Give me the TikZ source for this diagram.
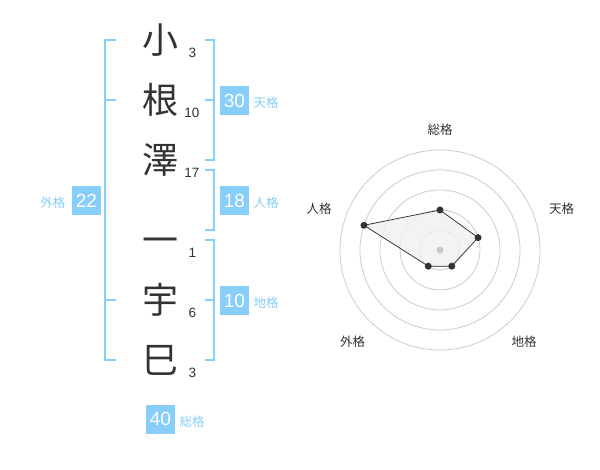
\documentclass[tikz,border=0pt]{standalone}
\usepackage{fontspec}
\setmainfont{Liberation Sans}
\newfontfamily\jp{Noto Sans CJK JP}
\begin{document}
\begin{tikzpicture}[x=1pt,y=-1pt,
  kanji/.style={font=\jp\fontsize{36}{36}\selectfont, text=black!80, inner sep=0pt, text height=31.7pt, text depth=4.3pt},
  strokes/.style={font=\fontsize{13.5}{14}\selectfont, text=black!80, inner sep=0pt},
  bracket/.style={draw=skyblue, line width=2pt},
  numbox/.style={fill=skyblue, minimum width=29pt, minimum height=29pt, inner sep=0pt, text=white, font=\fontsize{19}{19}\selectfont},
  kaku/.style={font=\jp\fontsize{12.5}{13}\selectfont, text=skytext, inner sep=0pt, text height=11pt, text depth=1.5pt},
  rlabel/.style={font=\jp\fontsize{12.5}{13}\selectfont, text=black!80, inner sep=0pt, text height=11pt, text depth=1.5pt},
  ring/.style={draw=black!20, line width=0.8pt},
  dot/.style={circle, fill=black!80, inner sep=0pt, minimum size=7pt}
]
\definecolor{skyblue}{HTML}{87CEFA}
\definecolor{skytext}{HTML}{87CEFA}
\useasboundingbox (0,0) rectangle (600,470);
\fill[white] (0,0) rectangle (600,470);

% characters
\node[kanji] (k1) at (160,40) {小};
\node[kanji] (k2) at (160,100) {根};
\node[kanji] (k3) at (160,160) {澤};
\node[kanji] (k4) at (160,240) {一};
\node[kanji] (k5) at (160,300) {宇};
\node[kanji] (k6) at (160,360) {巳};
\node[strokes] (s1) at (192.5,52.5) {3};
\node[strokes] (s2) at (192,112.5) {10};
\node[strokes] (s3) at (192,173) {17};
\node[strokes] (s4) at (192.5,252.5) {1};
\node[strokes] (s5) at (192.5,312.5) {6};
\node[strokes] (s6) at (192.5,373) {3};

% brackets
\draw[bracket] (116,40) -- (105,40) -- (105,360) -- (116,360);
\draw[bracket] (105,100) -- (116,100);
\draw[bracket] (105,300) -- (116,300);
\draw[bracket] (205,40) -- (214,40) -- (214,160) -- (205,160);
\draw[bracket] (205,100) -- (214,100);
\draw[bracket] (205,170) -- (214,170) -- (214,230) -- (205,230);
\draw[bracket] (205,240) -- (214,240) -- (214,360) -- (205,360);
\draw[bracket] (205,300) -- (214,300);

% boxes
\node[numbox] (ten) at (234.5,100.5) {30};
\node[kaku, anchor=west] (tenl) at (253.5,103) {天格};
\node[numbox] (jin) at (234.5,200.5) {18};
\node[kaku, anchor=west] (jinl) at (253.5,203) {人格};
\node[numbox] (chi) at (234.5,300.5) {10};
\node[kaku, anchor=west] (chil) at (253.5,303) {地格};
\node[numbox] (gai) at (86.5,200.5) {22};
\node[kaku, anchor=east] (gail) at (65.5,203) {外格};
\node[numbox] (sou) at (160.5,419) {40};
\node[kaku, anchor=west] (soul) at (179.5,422) {総格};

% radar
\foreach \r in {20,40,60,80,100} \draw[ring] (440,250) circle[radius=\r pt];
\coordinate (pS) at ({440+40*sin(0)},{250-40*cos(0)});
\coordinate (pT) at ({440+40*sin(72)},{250-40*cos(72)});
\coordinate (pC) at ({440+20*sin(144)},{250-20*cos(144)});
\coordinate (pG) at ({440+20*sin(216)},{250-20*cos(216)});
\coordinate (pJ) at ({440+80*sin(288)},{250-80*cos(288)});
\filldraw[fill=black!6, fill opacity=0.8, draw=black!85, line width=0.7pt] (pS) -- (pT) -- (pC) -- (pG) -- (pJ) -- cycle;
\fill[black!22] (440,250) circle[radius=3.5pt];
\foreach \p in {pS,pT,pC,pG,pJ} \node[dot] at (\p) {};
\node[rlabel] (r1) at (440,130) {総格};
\node[rlabel] (r2) at (561.5,208.5) {天格};
\node[rlabel] (r3) at (524,342) {地格};
\node[rlabel] (r4) at (352.5,342) {外格};
\node[rlabel] (r5) at (319,208.5) {人格};
\end{tikzpicture}
\end{document}
